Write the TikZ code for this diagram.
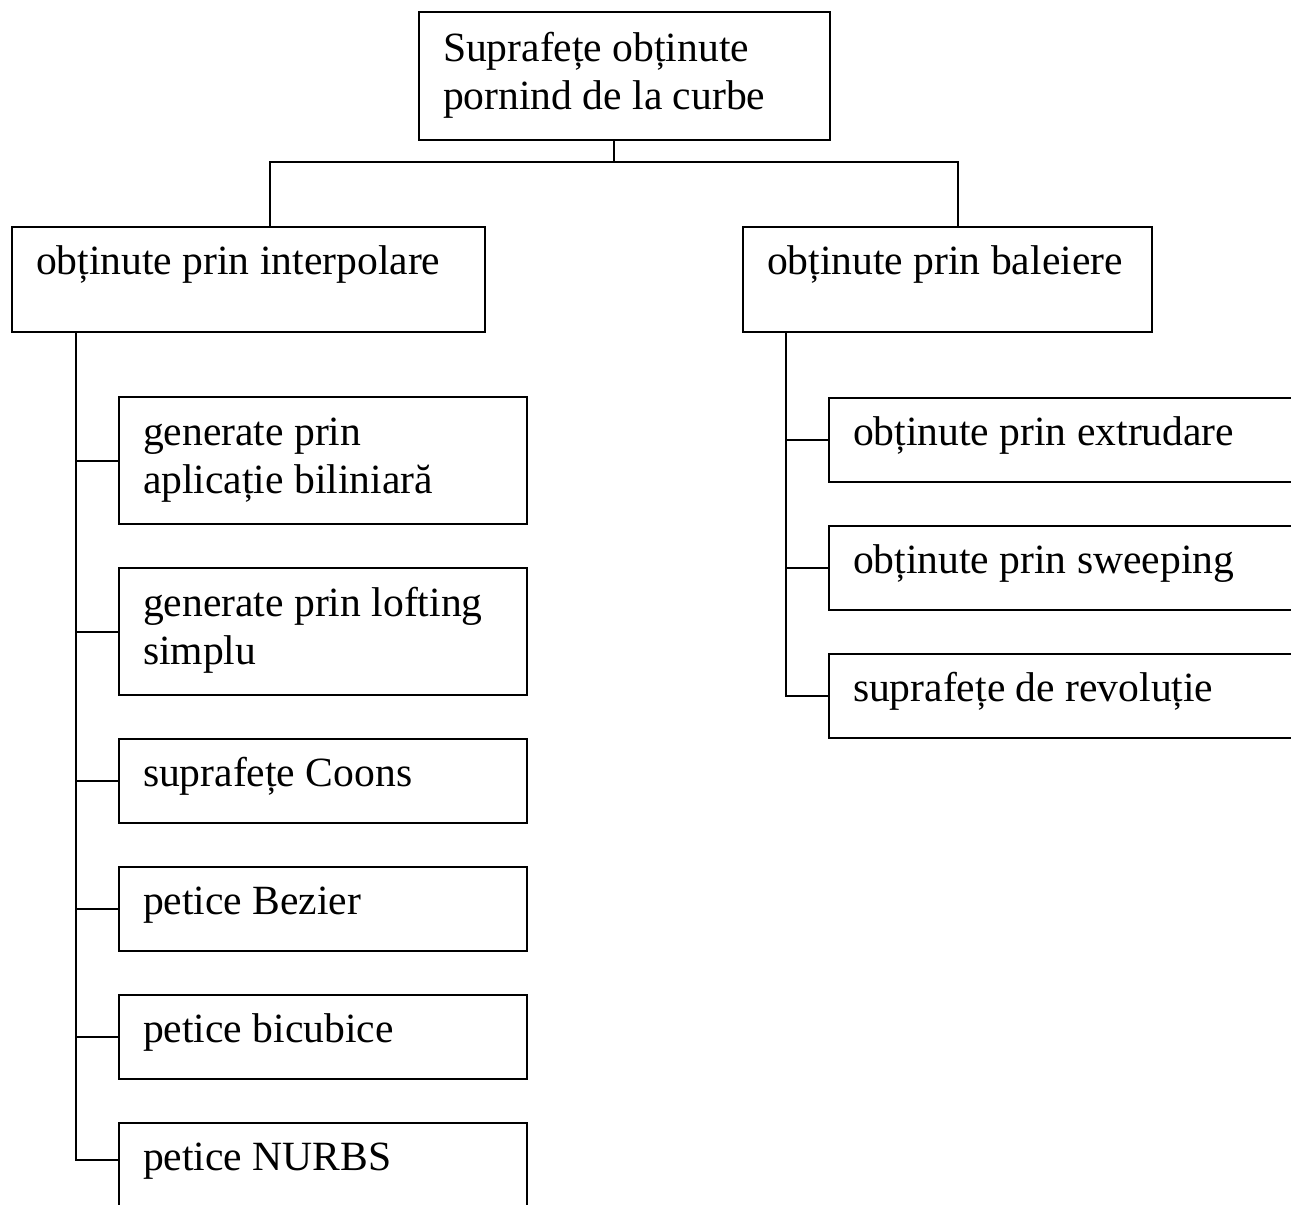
\documentclass[tikz,border=0pt]{standalone}
\usepackage{fontspec}
\setmainfont{Liberation Serif}
\begin{document}
\begin{tikzpicture}[x=1pt,y=-1pt,line width=2pt,
  box/.style={draw,rectangle,anchor=north west,inner sep=0pt},
  txt/.style={anchor=base west,inner sep=0pt,align=left,
              font=\fontsize{41.6}{48}\selectfont},
  link/.style={line width=2pt}]
\useasboundingbox (0,0) rectangle (1291,1205);
\clip (0,0) rectangle (1291,1205);

% root (base anchor of a two-line node sits on its last line)
\node[box,minimum width=411pt,minimum height=128pt] (root) at (418,11) {};
\node[txt] (troot) at ([shift={(24,98)}]root.north west)
  {Suprafețe obținute\\pornind de la curbe};

% second level
\node[box,minimum width=473pt,minimum height=105pt] (mL) at (11,226) {};
\node[txt] (tmL) at ([shift={(24,48)}]mL.north west) {obținute prin interpolare};
\node[box,minimum width=409pt,minimum height=105pt] (mR) at (742,226) {};
\node[txt] (tmR) at ([shift={(24,48)}]mR.north west) {obținute prin baleiere};

% children of the left branch
\node[box,minimum width=408pt,minimum height=127pt] (c1) at (118,396) {};
\node[txt] (tc1) at ([shift={(24,97)}]c1.north west) {generate prin\\aplicație biliniară};
\node[box,minimum width=408pt,minimum height=127pt] (c2) at (118,567) {};
\node[txt] (tc2) at ([shift={(24,97)}]c2.north west) {generate prin lofting\\simplu};
\node[box,minimum width=408pt,minimum height=84pt] (c3) at (118,738) {};
\node[txt] (tc3) at ([shift={(24,48)}]c3.north west) {suprafețe Coons};
\node[box,minimum width=408pt,minimum height=84pt] (c4) at (118,866) {};
\node[txt] (tc4) at ([shift={(24,48)}]c4.north west) {petice Bezier};
\node[box,minimum width=408pt,minimum height=84pt] (c5) at (118,994) {};
\node[txt] (tc5) at ([shift={(24,48)}]c5.north west) {petice bicubice};
\node[box,minimum width=408pt,minimum height=120pt] (c6) at (118,1122) {};
\node[txt] (tc6) at ([shift={(24,48)}]c6.north west) {petice NURBS};

% children of the right branch
\node[box,minimum width=500pt,minimum height=84pt] (d1) at (828,397) {};
\node[txt] (td1) at ([shift={(24,48)}]d1.north west) {obținute prin extrudare};
\node[box,minimum width=500pt,minimum height=84pt] (d2) at (828,525) {};
\node[txt] (td2) at ([shift={(24,48)}]d2.north west) {obținute prin sweeping};
\node[box,minimum width=500pt,minimum height=84pt] (d3) at (828,653) {};
\node[txt] (td3) at ([shift={(24,48)}]d3.north west) {suprafețe de revoluție};

% top connectors
\coordinate (hub) at ([xshift=-10.5pt,yshift=-21pt]root.south);
\draw[link] (hub |- root.south) -- (hub);
\draw[link] ([xshift=21pt]mL.north) |- (hub) -| ([xshift=10.5pt]mR.north);

% left trunk
\coordinate (tL) at ([xshift=65pt]mL.south west);
\coordinate (e6) at ([yshift=-38pt]c6.north west);
\draw[link] (tL) |- (e6);
\foreach \c in {c1,c2,c3,c4,c5}
  \draw[link] (tL |- \c.west) -- (\c.west);

% right trunk
\coordinate (tR) at ([xshift=44pt]mR.south west);
\draw[link] (tR) |- (d3.west);
\foreach \c in {d1,d2}
  \draw[link] (tR |- \c.west) -- (\c.west);
\end{tikzpicture}
\end{document}
